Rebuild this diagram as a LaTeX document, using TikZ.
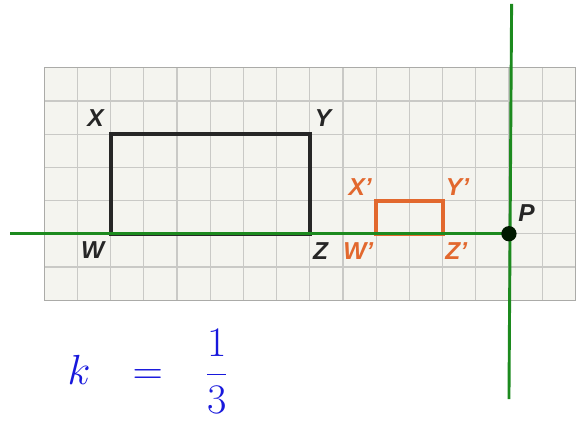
\documentclass[tikz,border=0pt]{standalone}
\usepackage{fontspec}
\setsansfont{Liberation Sans}
\usepackage{amsmath}
\usetikzlibrary{positioning}
\definecolor{paper}{HTML}{F4F4EF}
\definecolor{gridline}{HTML}{C9C9C6}
\definecolor{imgorange}{HTML}{E2682E}
\definecolor{axisgreen}{HTML}{1C8A1E}
\definecolor{inkblue}{HTML}{1818DC}

\begin{document}
\begin{tikzpicture}[
    lbl/.style={font=\sffamily\bfseries\itshape\fontsize{21}{24}\selectfont, inner sep=0pt},
    orig/.style={lbl, text=black!85},
    img/.style={lbl, text=imgorange},
    axis/.style={draw=axisgreen, line width=2.5pt}
]
    \useasboundingbox (-1.33, -3.73) rectangle (16.14, 9.04);
    % grid paper
    \fill[paper] (0,0) rectangle (16,7);
    \draw[gridline, line width=1pt] (0,0) grid (16,7);
    \draw[gridline!85!black, line width=1pt] (0,0) rectangle (16,7);

    % corners of both rectangles
    \foreach \n/\x/\y in {W/2/2, X/2/5, Y/8/5, Z/8/2, Wi/10/2, Xi/10/3, Yi/12/3, Zi/12/2} {
        \coordinate (\n) at (\x, \y);
    }
    \draw[black!85, line width=3.4pt] (W) -- (X) -- (Y) -- (Z) -- cycle;
    \draw[imgorange, line width=3.4pt] (Wi) -- (Xi) -- (Yi) -- (Zi) -- cycle;

    % lines through P
    \coordinate (P) at (14, 2);
    \coordinate (hleft) at (-1.02, 2);
    \coordinate (vtop) at (14.08, 8.92);
    \coordinate (vbot) at (14, -2.98);
    \draw[axis] (hleft) -- (P);
    \draw[axis] (vtop) -- (vbot);
    \node[circle, fill=black!90!green, inner sep=0pt, minimum size=0.46cm] (Pdot) at (P) {};

    % labels
    \node[orig] (lX) at (1.55, 5.47) {X};
    \node[orig] (lY) at (8.40, 5.47) {Y};
    \node[orig] (lW) at (1.46, 1.52) {W};
    \node[orig] (lZ) at (8.33, 1.48) {Z};
    \node[img] (lXi) at (9.52, 3.40) {X'};
    \node[img] (lYi) at (12.45, 3.40) {Y'};
    \node[img] (lWi) at (9.46, 1.48) {W'};
    \node[img] (lZi) at (12.41, 1.48) {Z'};
    \node[orig] (lP) at (14.53, 2.62) {P};

    % scale factor
    \node[text=inkblue, font=\fontsize{24}{28}\selectfont, scale=1.45, transform shape, inner sep=0pt] (kval) at (3.13, -2.15) {$k\;\;\,=\;\;\,\dfrac{1}{3}$};
\end{tikzpicture}
\end{document}
